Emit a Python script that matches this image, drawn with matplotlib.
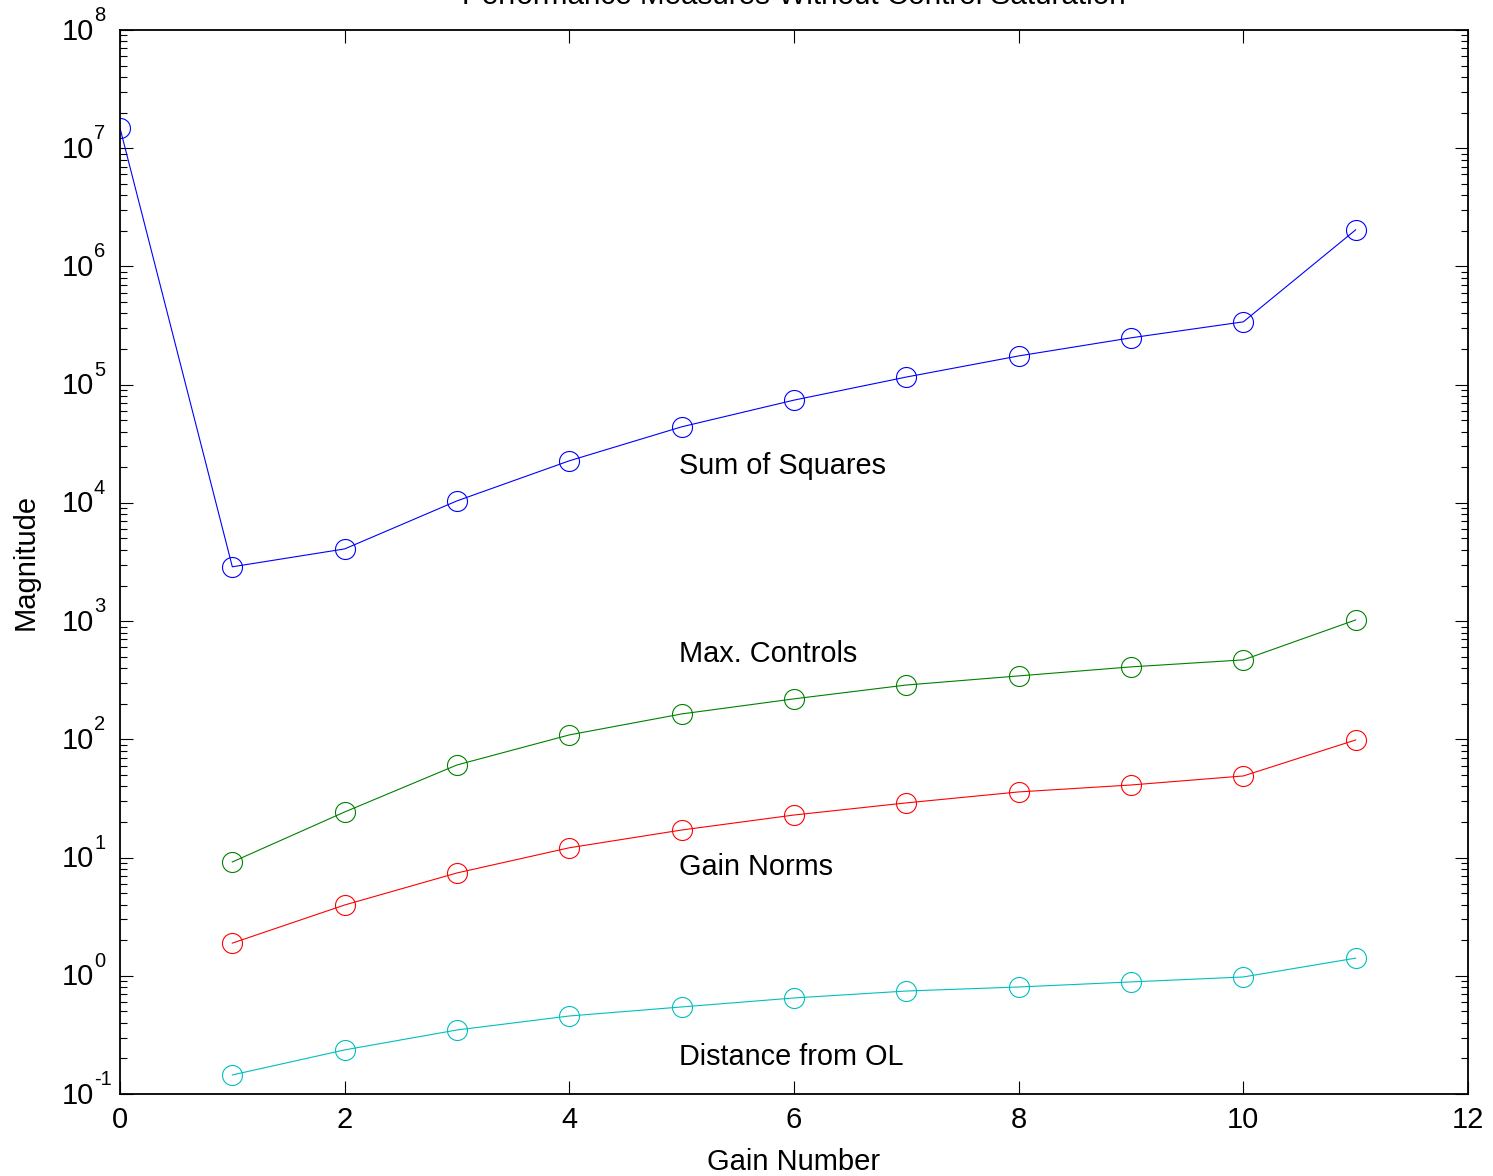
import matplotlib
matplotlib.use("Agg")
import matplotlib.pyplot as plt
from matplotlib.ticker import LogLocator, FixedLocator, NullFormatter
from matplotlib.transforms import ScaledTranslation

plt.rcParams['font.family'] = ['Liberation Sans', 'DejaVu Sans']

# Performance measures for each gain
gain_ss = [0, 1, 2, 3, 4, 5, 6, 7, 8, 9, 10, 11]
sum_of_squares = [1.48e7, 2.88e3, 4.08e3, 1.04e4, 2.27e4, 4.4e4, 7.4e4,
                  1.16e5, 1.75e5, 2.49e5, 3.4e5, 2.04e6]

gain = [1, 2, 3, 4, 5, 6, 7, 8, 9, 10, 11]
max_controls = [9.18, 24.3, 60.7, 109, 164, 220, 288, 344, 410, 470, 1023]
gain_norms = [1.89, 3.97, 7.41, 12.1, 17.1, 22.9, 29.0, 35.9, 41.1, 49.0, 98.8]
distance_ol = [0.145, 0.236, 0.348, 0.457, 0.545, 0.649, 0.743, 0.804,
               0.887, 0.977, 1.41]

labels = ["Sum of Squares", "Max. Controls", "Gain Norms", "Distance from OL"]
label_x = [5, 5, 5, 5]
label_y = [2.05e4, 527, 8.3, 0.206]

x_ticks = [0, 2, 4, 6, 8, 10, 12]
y_exponents = [-1, 0, 1, 2, 3, 4, 5, 6, 7, 8]

fig = plt.figure(figsize=(14.93, 11.76), dpi=100)
ax = fig.add_axes([120 / 1493, 1 - 1094 / 1176, 1348 / 1493, 1064 / 1176])

style = dict(marker='o', markersize=14.4, markerfacecolor='none',
             linewidth=0.8, markeredgewidth=0.8)
ax.plot(gain_ss, sum_of_squares, color='#0000ff', **style)
ax.plot(gain, max_controls, color='#008000', **style)
ax.plot(gain, gain_norms, color='#ff0000', **style)
ax.plot(gain, distance_ol, color='#00bfbf', **style)

for t, x, y in zip(labels, label_x, label_y):
    ax.text(x - 0.02, y, t, fontsize=20.8, ha='left', va='center')

ax.set_yscale('log')
ax.set_xlim(0, 12)
ax.set_ylim(10.0 ** y_exponents[0], 10.0 ** y_exponents[-1])
ax.xaxis.set_major_locator(FixedLocator(x_ticks))
ax.yaxis.set_major_locator(FixedLocator([10.0 ** e for e in y_exponents]))
ax.yaxis.set_minor_locator(LogLocator(base=10, subs=range(2, 10), numticks=20))
ax.yaxis.set_major_formatter(NullFormatter())
ax.yaxis.set_minor_formatter(NullFormatter())

ax.tick_params(which='both', direction='in', top=True, right=True,
               labelsize=21, width=0.8, colors='black')
ax.tick_params(which='major', length=9.5, pad=9)
ax.tick_params(which='minor', length=5)
for s in ax.spines.values():
    s.set_linewidth(1.3)

# Power-of-ten labels on the y axis: base and raised exponent
ytrans = ax.get_yaxis_transform()
base_off = ScaledTranslation(-0.26, -0.095, fig.dpi_scale_trans)
exp_off = ScaledTranslation(-0.26, 0.09, fig.dpi_scale_trans)
for e in y_exponents:
    ax.text(0, 10.0 ** e, '10', fontsize=21, ha='right', va='baseline',
            transform=ytrans + base_off, clip_on=False)
    ax.text(0, 10.0 ** e, str(e), fontsize=14.5, ha='left', va='baseline',
            transform=ytrans + exp_off, clip_on=False)

ax.set_xlabel('Gain Number', fontsize=21, labelpad=10)
ax.set_ylabel('Magnitude', fontsize=21)
ax.yaxis.set_label_coords(-80 / 1348, 0.5)

fig.text(0.5 + 0.5 * (120 + 1468 - 1493) / 1493, 1 - 4 / 1176,
         'Performance Measures Without Control Saturation',
         fontsize=21.3, ha='center', va='baseline')

fig.savefig('out.png', dpi=100)
